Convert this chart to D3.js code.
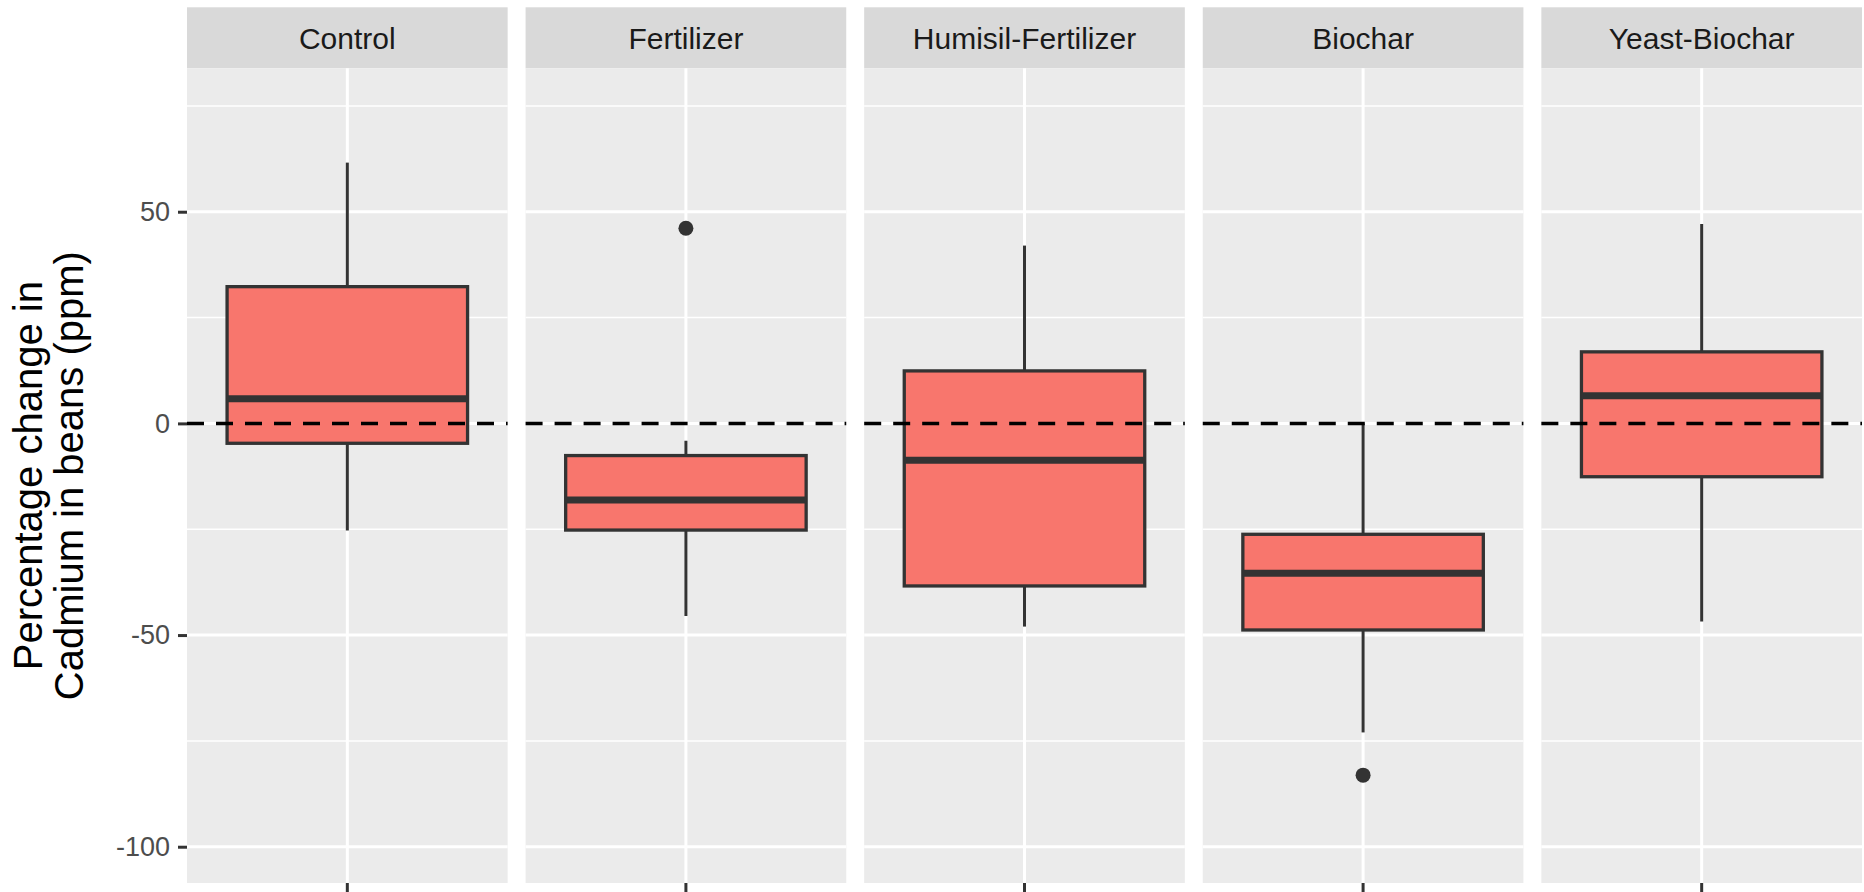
<!DOCTYPE html>
<html>
<head>
<meta charset="utf-8">
<script src="https://cdn.jsdelivr.net/npm/d3@7"></script>
<style>
  html, body { margin: 0; padding: 0; background: #ffffff; }
  svg { display: block; }
  text { font-family: "Liberation Sans", Arial, sans-serif; }
</style>
</head>
<body>
<svg id="chart" width="1864" height="892"></svg>
<script>
// Treatments (one facet each) and box-plot statistics, % change in Cd
const categories  = ["Control", "Fertilizer", "Humisil-Fertilizer", "Biochar", "Yeast-Biochar"];
const whiskerLow  = [-25.3, -45.5, -48.0, -73.0, -46.8];
const q1Values    = [-4.7, -25.2, -38.4, -48.8, -12.6];
const medians     = [5.8, -18.1, -8.7, -35.4, 6.5];
const q3Values    = [32.3, -7.6, 12.4, -26.2, 16.9];
const whiskerHigh = [61.6, -4.1, 42.0, 0.0, 47.1];
const outliers    = [[], [46.1], [], [-83.1], []];

const majorTicks = [-100, -50, 0, 50];
const minorTicks = [-75, -25, 25, 75];
const yTitleLines = ["Percentage change in", "Cadmium in beans (ppm)"];

const panelLeft = 187, panelRight = 1862;
const stripTop = 7.3, stripBottom = 68.3, panelBottom = 883;

const svg = d3.select("#chart");

// facet positions
const fx = d3.scaleBand().domain(categories).range([panelLeft, panelRight])
  .paddingInner(0.053).paddingOuter(0);
const pw = fx.bandwidth();

// shared y scale
const y = d3.scaleLinear().domain([-108.57, 83.88]).range([panelBottom, stripBottom]);

const data = categories.map((c, i) => ({
  cat: c, lo: whiskerLow[i], q1: q1Values[i], med: medians[i],
  q3: q3Values[i], hi: whiskerHigh[i], out: outliers[i]
}));

const panels = svg.selectAll("g.panel").data(data).join("g")
  .attr("class", "panel")
  .attr("transform", d => `translate(${fx(d.cat)},0)`);

// strip
panels.append("rect")
  .attr("x", 0).attr("y", stripTop).attr("width", pw).attr("height", stripBottom - stripTop)
  .attr("fill", "#D9D9D9");
panels.append("text")
  .attr("x", pw / 2).attr("y", (stripTop + stripBottom) / 2)
  .attr("dy", "0.36em").attr("text-anchor", "middle")
  .attr("font-size", 30).attr("fill", "#1A1A1A")
  .text(d => d.cat);

// panel background
panels.append("rect")
  .attr("x", 0).attr("y", stripBottom).attr("width", pw).attr("height", panelBottom - stripBottom)
  .attr("fill", "#EBEBEB");

// grid lines
panels.selectAll("line.minor").data(minorTicks).join("line")
  .attr("class", "minor")
  .attr("x1", 0).attr("x2", pw)
  .attr("y1", v => y(v)).attr("y2", v => y(v))
  .attr("stroke", "#ffffff").attr("stroke-width", 1.5);
panels.selectAll("line.major").data(majorTicks).join("line")
  .attr("class", "major")
  .attr("x1", 0).attr("x2", pw)
  .attr("y1", v => y(v)).attr("y2", v => y(v))
  .attr("stroke", "#ffffff").attr("stroke-width", 3);

// inner x scale: one category per facet
panels.each(function (d) {
  const g = d3.select(this);
  const bx = d3.scaleBand().domain([d.cat]).range([0, pw]).paddingInner(0).paddingOuter(1 / 6);
  const cx = bx(d.cat) + bx.bandwidth() / 2;

  g.append("line")
    .attr("x1", cx).attr("x2", cx).attr("y1", stripBottom).attr("y2", panelBottom)
    .attr("stroke", "#ffffff").attr("stroke-width", 3);

  // whiskers
  g.append("line")
    .attr("x1", cx).attr("x2", cx).attr("y1", y(d.hi)).attr("y2", y(d.q3))
    .attr("stroke", "#333333").attr("stroke-width", 3);
  g.append("line")
    .attr("x1", cx).attr("x2", cx).attr("y1", y(d.q1)).attr("y2", y(d.lo))
    .attr("stroke", "#333333").attr("stroke-width", 3);

  // box
  g.append("rect")
    .attr("x", bx(d.cat)).attr("width", bx.bandwidth())
    .attr("y", y(d.q3)).attr("height", y(d.q1) - y(d.q3))
    .attr("fill", "#F8766D").attr("stroke", "#333333").attr("stroke-width", 3.3);

  // median
  g.append("line")
    .attr("x1", bx(d.cat)).attr("x2", bx(d.cat) + bx.bandwidth())
    .attr("y1", y(d.med)).attr("y2", y(d.med))
    .attr("stroke", "#333333").attr("stroke-width", 7);

  // outliers
  g.selectAll("circle").data(d.out).join("circle")
    .attr("cx", cx).attr("cy", v => y(v)).attr("r", 7.5)
    .attr("fill", "#333333");

  // reference line at zero
  g.append("line")
    .attr("x1", 0).attr("x2", pw).attr("y1", y(0)).attr("y2", y(0))
    .attr("stroke", "#000000").attr("stroke-width", 3.5)
    .attr("stroke-dasharray", "17,12");

  // x tick below panel
  g.append("line")
    .attr("x1", cx).attr("x2", cx).attr("y1", panelBottom).attr("y2", panelBottom + 9)
    .attr("stroke", "#333333").attr("stroke-width", 3);
});

// y axis
const yAxis = svg.append("g")
  .attr("transform", `translate(${panelLeft},0)`)
  .call(d3.axisLeft(y).tickValues(majorTicks).tickSize(9).tickPadding(8).tickFormat(d => String(d)));
yAxis.select(".domain").remove();
yAxis.selectAll(".tick line").attr("stroke", "#333333").attr("stroke-width", 3);
yAxis.selectAll(".tick text")
  .attr("fill", "#4D4D4D").attr("font-size", 27)
  .attr("font-family", "Liberation Sans, Arial, sans-serif");

// y axis title
const midY = (stripBottom + panelBottom) / 2;
const title = svg.append("text")
  .attr("transform", `translate(0,${midY}) rotate(-90)`)
  .attr("text-anchor", "middle")
  .attr("font-size", 40).attr("fill", "#000000");
title.selectAll("tspan").data(yTitleLines).join("tspan")
  .attr("x", 0).attr("y", (d, i) => 42 + i * 41)
  .text(d => d);
</script>
</body>
</html>
